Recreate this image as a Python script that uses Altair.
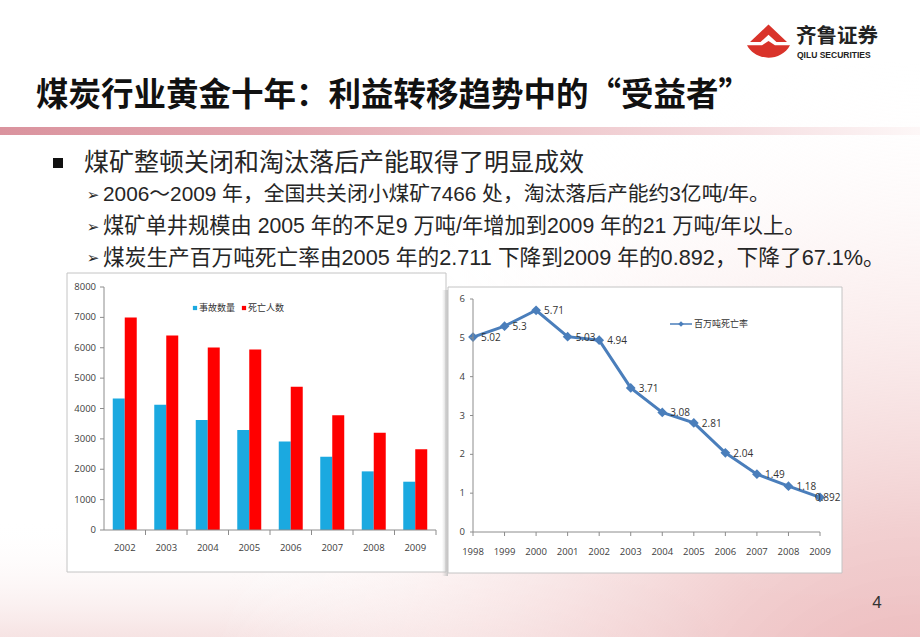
import altair as alt
import pandas as pd

# ---------------- data ----------------
bar_years = ["2002", "2003", "2004", "2005", "2006", "2007", "2008", "2009"]
accidents = [4330, 4120, 3620, 3290, 2910, 2410, 1930, 1590]
deaths = [6995, 6400, 6010, 5940, 4720, 3780, 3200, 2660]
series_names = ["事故数量", "死亡人数"]
bar_ticks = [0, 1000, 2000, 3000, 4000, 5000, 6000, 7000, 8000]

rate_years = ["1998", "1999", "2000", "2001", "2002", "2003",
              "2004", "2005", "2006", "2007", "2008", "2009"]
rates = [5.02, 5.3, 5.71, 5.03, 4.94, 3.71, 3.08, 2.81, 2.04, 1.49, 1.18, 0.892]
rate_labels = ["5.02", "5.3", "5.71", "5.03", "4.94", "3.71", "3.08", "2.81",
               "2.04", "1.49", "1.18", "0.892"]
rate_ticks = [0, 1, 2, 3, 4, 5, 6]
rate_name = "百万吨死亡率"

title = "煤炭行业黄金十年：利益转移趋势中的“受益者”"
bullet = "煤矿整顿关闭和淘汰落后产能取得了明显成效"
subs = [
    "2006～2009 年，全国共关闭小煤矿7466 处，淘汰落后产能约3亿吨/年。",
    "煤矿单井规模由 2005 年的不足9 万吨/年增加到2009 年的21 万吨/年以上。",
    "煤炭生产百万吨死亡率由2005 年的2.711 下降到2009 年的0.892，下降了67.1%。",
]
page_no = "4"

# ---------------- tables ----------------
bar_rows = []
for y, a, d in zip(bar_years, accidents, deaths):
    bar_rows.append({"year": y, "series": series_names[0], "value": a})
    bar_rows.append({"year": y, "series": series_names[1], "value": d})
bar_df = pd.DataFrame(bar_rows)
bar_tick_df = pd.DataFrame({"value": bar_ticks})
bar_year_df = pd.DataFrame({"year": bar_years})

rate_df = pd.DataFrame({"year": rate_years, "rate": rates, "label": rate_labels})
rate_tick_df = pd.DataFrame({"rate": rate_ticks})

sub_df = pd.DataFrame({"text": subs, "row": [0, 1, 2]})


def one():
    return pd.DataFrame({"k": [0]})


SANS = "Liberation Sans, Noto Sans CJK SC"
CJK = "Noto Sans CJK SC"
TICKF = "Open Sans"
AXIS_C = "#8C8C8C"
TXT_C = "#404040"
BLUE = "#1BA9E0"
RED = "#FF0000"
LINE_C = "#4A7EBB"

layers = []

# ---------------- background ----------------
layers.append(alt.Chart(one()).mark_rect(
    color=alt.LinearGradient(gradient="linear", x1=0, y1=0, x2=0, y2=1, stops=[
        alt.GradientStop(color="rgba(255,255,255,0)", offset=0),
        alt.GradientStop(color="rgba(244,220,220,0.8)", offset=1)])
).encode(x=alt.value(0), x2=alt.value(920), y=alt.value(520), y2=alt.value(637)))

layers.append(alt.Chart(one()).mark_rect(
    color=alt.RadialGradient(gradient="radial", x1=1, y1=1, r1=0, x2=1, y2=1, r2=0.78, stops=[
        alt.GradientStop(color="rgba(232,172,175,1)", offset=0),
        alt.GradientStop(color="rgba(241,205,206,0.95)", offset=0.35),
        alt.GradientStop(color="rgba(250,234,234,0.6)", offset=0.7),
        alt.GradientStop(color="rgba(255,255,255,0)", offset=1)])
).encode(x=alt.value(0), x2=alt.value(920), y=alt.value(0), y2=alt.value(637)))

# pink band below the title
layers.append(alt.Chart(one()).mark_rect(
    color=alt.LinearGradient(gradient="linear", x1=0, y1=0, x2=1, y2=0, stops=[
        alt.GradientStop(color="#DA939E", offset=0),
        alt.GradientStop(color="#E3A7B0", offset=0.3),
        alt.GradientStop(color="#EDC3C8", offset=0.55),
        alt.GradientStop(color="#F5DDE0", offset=0.8),
        alt.GradientStop(color="#FDF7F7", offset=1)])
).encode(x=alt.value(0), x2=alt.value(920), y=alt.value(127), y2=alt.value(135)))

# ---------------- logo ----------------
roof = "M-0.86,0.09 L0,-0.72 L0.86,0.09 L0.37,0.09 L0,-0.24 L-0.37,0.09 Z"
bowl = ("M-1,0.24 L-0.3,0.24 L0,0.05 L0.3,0.24 L1,0.24 "
        "C0.8,0.62 0.4,0.82 0,0.82 C-0.4,0.82 -0.8,0.62 -1,0.24 Z")
layers.append(alt.Chart(one()).mark_point(
    shape=roof + " " + bowl, filled=True, size=1849, color="#D9332A", opacity=1
).encode(x=alt.value(768.5), y=alt.value(40)))
layers.append(alt.Chart(one()).mark_text(
    text="齐鲁证券", font=CJK, fontSize=20.5, fontWeight="bold", color="#222222",
    align="left", baseline="middle"
).encode(x=alt.value(796), y=alt.value(37)))
layers.append(alt.Chart(one()).mark_text(
    text="QILU SECURITIES", font="Liberation Sans", fontSize=8.5, fontWeight="bold",
    color="#222222", align="left", baseline="middle"
).encode(x=alt.value(797), y=alt.value(55)))

# ---------------- title & text ----------------
layers.append(alt.Chart(one()).mark_text(
    text=title, font=CJK, fontSize=32.5, fontWeight="bold", color="#111111",
    align="left", baseline="middle"
).encode(x=alt.value(36), y=alt.value(96)))

layers.append(alt.Chart(one()).mark_point(
    shape="square", filled=True, size=100, color="#111111", opacity=1
).encode(x=alt.value(58), y=alt.value(163)))
layers.append(alt.Chart(one()).mark_text(
    text=bullet, font=CJK, fontSize=25, color="#262626", align="left", baseline="middle"
).encode(x=alt.value(84), y=alt.value(163)))

row_y = alt.Scale(domain=[0, 2], range=[195, 258])
layers.append(alt.Chart(sub_df).mark_text(
    font="DejaVu Sans", fontSize=15, color="#262626", align="center", baseline="middle"
).encode(x=alt.value(93), y=alt.Y("row:Q", scale=row_y, axis=None), text=alt.value("➢")))
layers.append(alt.Chart(sub_df).mark_text(
    font=SANS, color="#262626", align="left", baseline="middle"
).encode(x=alt.value(103), y=alt.Y("row:Q", scale=row_y, axis=None), text="text:N",
         size=alt.Size("row:O", scale=alt.Scale(domain=[0, 1, 2], range=[20.8, 21.7, 21.7]),
                       legend=None)))

layers.append(alt.Chart(one()).mark_text(
    text=page_no, font=SANS, fontSize=17, color="#333333", align="center", baseline="middle"
).encode(x=alt.value(877), y=alt.value(603)))

# ---------------- frames ----------------
layers.append(alt.Chart(one()).mark_rect(fill="white", stroke="#C4C4C4", strokeWidth=1).encode(
    x=alt.value(67), x2=alt.value(446), y=alt.value(273), y2=alt.value(572)))
layers.append(alt.Chart(one()).mark_rect(
    color=alt.LinearGradient(gradient="linear", x1=0, y1=0, x2=1, y2=0, stops=[
        alt.GradientStop(color="rgba(200,200,200,0)", offset=0),
        alt.GradientStop(color="rgba(190,190,190,0.9)", offset=1)])
).encode(x=alt.value(442), x2=alt.value(448), y=alt.value(290), y2=alt.value(576)))
layers.append(alt.Chart(one()).mark_rect(fill="white", stroke="#C4C4C4", strokeWidth=1).encode(
    x=alt.value(448), x2=alt.value(842), y=alt.value(287), y2=alt.value(573)))

# ---------------- left chart (bars) ----------------
bx = alt.Scale(domain=bar_years, range=[104, 436], paddingInner=0, paddingOuter=0)
by = alt.Scale(domain=[0, 8000], range=[530, 287], nice=False, zero=True)
bxo = alt.Scale(domain=series_names, paddingInner=0, paddingOuter=0.73)
bcol = alt.Scale(domain=series_names, range=[BLUE, RED])

bars = alt.Chart(bar_df).mark_bar(opacity=1).encode(
    x=alt.X("year:N", scale=bx, axis=None),
    xOffset=alt.XOffset("series:N", scale=bxo),
    y=alt.Y("value:Q", scale=by, axis=None),
    color=alt.Color("series:N", scale=bcol, legend=None),
)
b_ylab = alt.Chart(bar_tick_df).mark_text(
    font=TICKF, fontSize=9.5, color=TXT_C, align="right", baseline="middle"
).encode(x=alt.value(96), y=alt.Y("value:Q", scale=by, axis=None), text="value:Q")
b_ytick = alt.Chart(bar_tick_df).mark_rule(color=AXIS_C, strokeWidth=1).encode(
    x=alt.value(100), x2=alt.value(104), y=alt.Y("value:Q", scale=by, axis=None))
b_yline = alt.Chart(one()).mark_rule(color=AXIS_C, strokeWidth=1).encode(
    x=alt.value(104), y=alt.value(287), y2=alt.value(530))
b_xline = alt.Chart(one()).mark_rule(color=AXIS_C, strokeWidth=1).encode(
    x=alt.value(104), x2=alt.value(436), y=alt.value(530))
b_xtick = alt.Chart(bar_year_df).mark_rule(color=AXIS_C, strokeWidth=1).encode(
    x=alt.X("year:N", scale=bx, axis=None, bandPosition=1), y=alt.value(530), y2=alt.value(535))
b_xlab = alt.Chart(bar_year_df).mark_text(
    font=TICKF, fontSize=9.5, color=TXT_C, align="center", baseline="middle"
).encode(x=alt.X("year:N", scale=bx, axis=None), y=alt.value(548), text="year:N")

# legend
leg_df = pd.DataFrame({"series": series_names, "i": [0, 1]})
leg_x = alt.Scale(domain=[0, 1], range=[195, 244])
b_legsw = alt.Chart(leg_df).mark_point(shape="square", filled=True, size=18, opacity=1).encode(
    x=alt.X("i:Q", scale=leg_x, axis=None), y=alt.value(308),
    color=alt.Color("series:N", scale=bcol, legend=None))
b_legtx = alt.Chart(leg_df).mark_text(
    font=CJK, fontSize=9, color="#333333", align="left", baseline="middle", dx=4
).encode(x=alt.X("i:Q", scale=leg_x, axis=None), y=alt.value(308), text="series:N")

left = alt.layer(bars, b_ylab, b_ytick, b_yline, b_xline, b_xtick, b_xlab, b_legsw, b_legtx)

# ---------------- right chart (line) ----------------
rx = alt.Scale(type="point", domain=rate_years, range=[473, 820], padding=0)
ry = alt.Scale(domain=[0, 6], range=[532, 299], nice=False, zero=True)

r_line = alt.Chart(rate_df).mark_line(color=LINE_C, strokeWidth=3).encode(
    x=alt.X("year:O", scale=rx, axis=None), y=alt.Y("rate:Q", scale=ry, axis=None))
r_pts = alt.Chart(rate_df).mark_point(shape="diamond", filled=True, size=95, color=LINE_C, opacity=1).encode(
    x=alt.X("year:O", scale=rx, axis=None), y=alt.Y("rate:Q", scale=ry, axis=None))
r_lab = alt.Chart(rate_df).transform_filter(alt.datum.year != rate_years[-1]).mark_text(
    font=TICKF, fontSize=10, color="#333333", align="left", baseline="middle", dx=8, dy=1
).encode(x=alt.X("year:O", scale=rx, axis=None), y=alt.Y("rate:Q", scale=ry, axis=None), text="label:N")
r_lab_last = alt.Chart(rate_df).transform_filter(alt.datum.year == rate_years[-1]).mark_text(
    font=TICKF, fontSize=10, color="#333333", align="left", baseline="middle", dx=-5, dy=1
).encode(x=alt.X("year:O", scale=rx, axis=None), y=alt.Y("rate:Q", scale=ry, axis=None), text="label:N")
r_ylab = alt.Chart(rate_tick_df).mark_text(
    font=TICKF, fontSize=9.5, color=TXT_C, align="right", baseline="middle"
).encode(x=alt.value(465), y=alt.Y("rate:Q", scale=ry, axis=None), text="rate:Q")
r_ytick = alt.Chart(rate_tick_df).mark_rule(color=AXIS_C, strokeWidth=1).encode(
    x=alt.value(470), x2=alt.value(473), y=alt.Y("rate:Q", scale=ry, axis=None))
r_yline = alt.Chart(one()).mark_rule(color=AXIS_C, strokeWidth=1).encode(
    x=alt.value(473), y=alt.value(299), y2=alt.value(532))
r_xline = alt.Chart(one()).mark_rule(color=AXIS_C, strokeWidth=1).encode(
    x=alt.value(473), x2=alt.value(820), y=alt.value(532))
r_xtick = alt.Chart(rate_df).mark_rule(color=AXIS_C, strokeWidth=1).encode(
    x=alt.X("year:O", scale=rx, axis=None), y=alt.value(532), y2=alt.value(536))
r_xlab = alt.Chart(rate_df).mark_text(
    font=TICKF, fontSize=9.5, color=TXT_C, align="center", baseline="middle"
).encode(x=alt.X("year:O", scale=rx, axis=None), y=alt.value(552), text="year:N")

# legend
r_legline = alt.Chart(one()).mark_rule(color=LINE_C, strokeWidth=1.5).encode(
    x=alt.value(670), x2=alt.value(692), y=alt.value(324))
r_legpt = alt.Chart(one()).mark_point(shape="diamond", filled=True, size=30, color=LINE_C, opacity=1).encode(
    x=alt.value(681), y=alt.value(324))
r_legtx = alt.Chart(one()).mark_text(
    text=rate_name, font=CJK, fontSize=9, color="#333333", align="left", baseline="middle"
).encode(x=alt.value(694), y=alt.value(324))

right = alt.layer(r_line, r_pts, r_lab, r_lab_last, r_ylab, r_ytick, r_yline, r_xline,
                  r_xtick, r_xlab, r_legline, r_legpt, r_legtx)

layers.append(left)
layers.append(right)

chart = alt.layer(*layers).resolve_scale(
    x="independent", y="independent", color="independent", xOffset="independent",
    size="independent"
).properties(
    width=920, height=637,
    autosize=alt.AutoSizeParams(type="none"),
    padding=0,
    background="white",
).configure_view(strokeWidth=0)

chart.save("out.html", embed_options={"renderer": "svg", "actions": False})
